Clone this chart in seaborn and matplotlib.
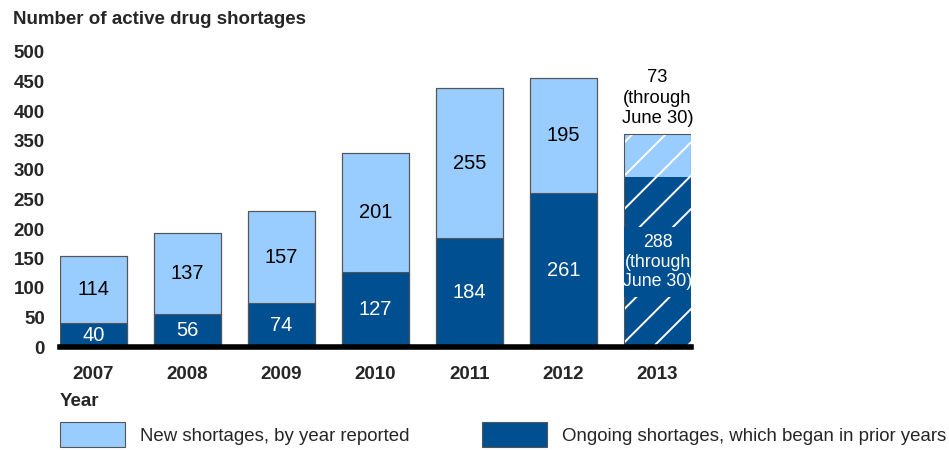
import pandas as pd
import seaborn as sns
import matplotlib.pyplot as plt
from matplotlib.patches import Patch

years = ["2007", "2008", "2009", "2010", "2011", "2012", "2013"]
ongoing = [40, 56, 74, 127, 184, 261, 288]
new = [114, 137, 157, 201, 255, 195, 73]
partial_year = "2013"

light = '#99CCFF'
dark = '#004F90'
edge = '#555555'

df = pd.DataFrame({"Year": years, "Ongoing": ongoing, "New": new})
df["Total"] = df["Ongoing"] + df["New"]

sns.set_style("white")
plt.rcParams["font.family"] = ["Liberation Sans", "DejaVu Sans"]
plt.rcParams["hatch.linewidth"] = 1.4

fig = plt.figure(figsize=(9.49, 4.5), dpi=100)
ax = fig.add_axes([60 / 949, 1 - 347 / 450, 631 / 949, 295 / 450])

w = 0.71
sns.barplot(data=df, x="Year", y="Total", color=light, width=w, saturation=1,
            edgecolor=edge, linewidth=0.8, ax=ax)
sns.barplot(data=df, x="Year", y="Ongoing", color=dark, width=w, saturation=1,
            edgecolor=edge, linewidth=0.8, ax=ax)

# hatch the partial year (white hatch lines)
idx = years.index(partial_year)
n = len(years)
for p in [ax.patches[idx], ax.patches[n + idx]]:
    p.set_edgecolor('white')
    p.set_linewidth(0)
    p.set_hatch('/')
dark_partial = ax.patches[n + idx]

# outline of every bar on top
sns.barplot(data=df, x="Year", y="Total", fill=False, width=w,
            edgecolor=edge, linewidth=0.8, ax=ax)

vfs = 14.5
for i, row in df.iterrows():
    if row["Year"] == partial_year:
        ax.text(i, row["Total"] + 12, f"{row['New']}\n(through\nJune 30)",
                ha='center', va='bottom', fontsize=13.2, color='black', linespacing=1.25)
        t = ax.text(i, row["Ongoing"] / 2, f"{row['Ongoing']}\n(through\nJune 30)",
                    ha='center', va='center', fontsize=12.8, color='white',
                    linespacing=1.2, bbox=dict(facecolor=dark, edgecolor='none', pad=5))
        bp = t.get_bbox_patch()
        bp.set_clip_on(True)
        bp.set_clip_path(dark_partial)
    else:
        ax.text(i, row["Ongoing"] / 2, str(row["Ongoing"]), ha='center', va='center',
                fontsize=vfs, color='white')
        ax.text(i, row["Ongoing"] + row["New"] / 2, str(row["New"]), ha='center',
                va='center', fontsize=vfs, color='black')

ax.set_xlim(-w / 2, n - 1 + w / 2)
ax.set_ylim(0, 500)
ax.set_yticks(range(0, 501, 50))
for s in ["top", "right", "left"]:
    ax.spines[s].set_visible(False)
ax.spines["bottom"].set_linewidth(4)
ax.spines["bottom"].set_color('black')
ax.spines["bottom"].set_zorder(5)
ax.tick_params(axis='x', length=0, pad=14, labelsize=13.5)
ax.tick_params(axis='y', length=0, pad=11, labelsize=13.5)
for lab in ax.get_xticklabels() + ax.get_yticklabels():
    lab.set_fontweight('bold')
ax.set_ylabel("")
ax.set_xlabel("Year", fontsize=13.5, fontweight='bold', loc='left', labelpad=7)

fig.text(13 / 949, 1 - 20 / 450, "Number of active drug shortages", fontsize=13.5,
         fontweight='bold', va='center', ha='left')

handles = [Patch(facecolor=light, edgecolor=edge, linewidth=0.8),
           Patch(facecolor=dark, edgecolor=edge, linewidth=0.8)]
fig.legend(handles, ["New shortages, by year reported",
                     "Ongoing shortages, which began in prior years"],
           loc='upper left', bbox_to_anchor=(60 / 949, 1 - 422 / 450), ncol=2,
           frameon=False, fontsize=13.4, handlelength=3.5, handleheight=1.7,
           handletextpad=0.8, columnspacing=3.9, borderpad=0, borderaxespad=0)

fig.savefig("out.png", dpi=100)
